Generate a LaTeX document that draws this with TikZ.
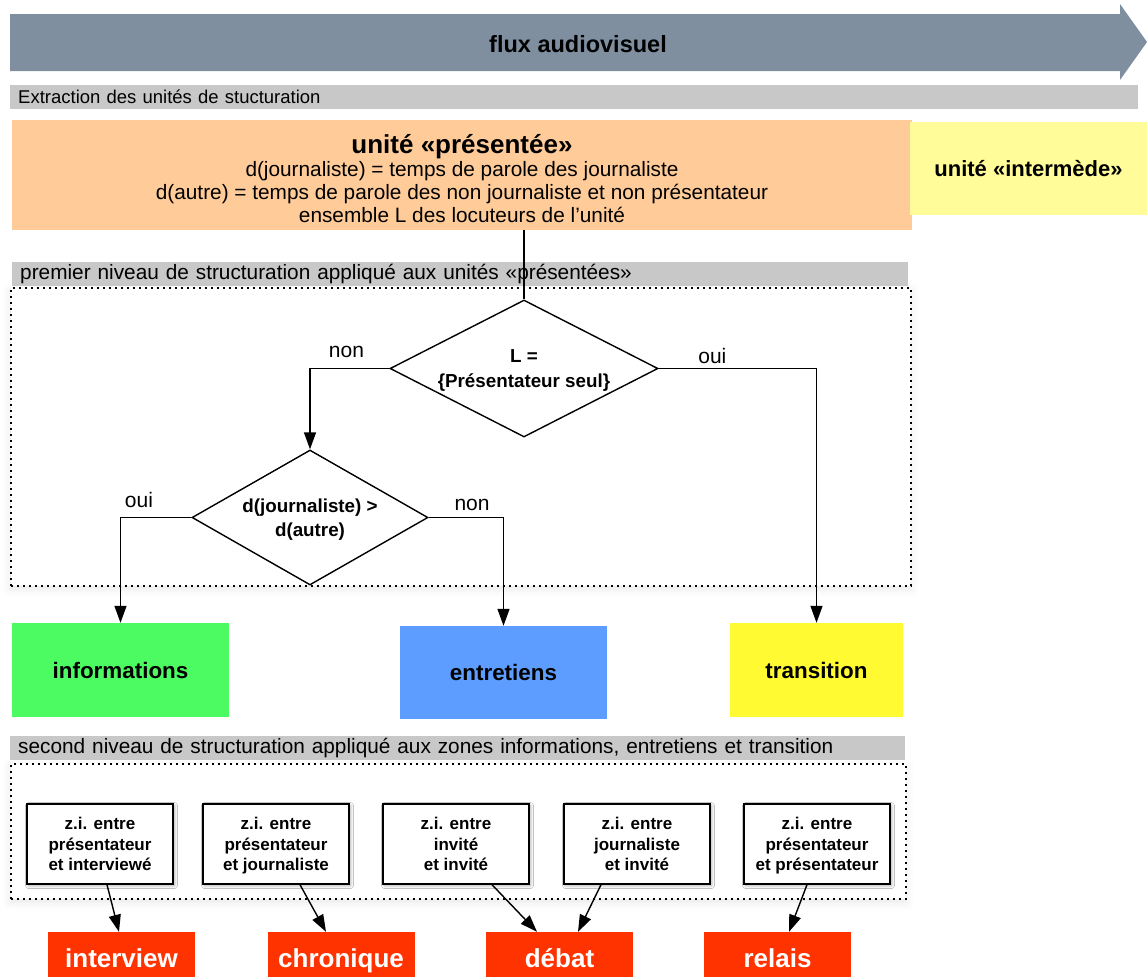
\documentclass[tikz,border=0pt]{standalone}
\usepackage{fontspec}
\setmainfont{Liberation Sans}
\usepackage{xcolor}
\usepackage{tikz}
\usetikzlibrary{arrows.meta, shapes.geometric, shadows.blur}

\definecolor{fluxgris}{RGB}{127,143,160}
\definecolor{bandeau}{RGB}{200,200,200}
\definecolor{peche}{RGB}{255,204,153}
\definecolor{jaunepale}{RGB}{255,252,153}
\definecolor{vert}{RGB}{76,250,98}
\definecolor{bleu}{RGB}{92,157,255}
\definecolor{jaune}{RGB}{255,250,50}
\definecolor{rouge}{RGB}{255,51,0}
\newcommand{\taille}[2]{\fontsize{#1}{#2}\selectfont}

\begin{document}
\begin{tikzpicture}[
    x=1pt, y=-1pt,
    every node/.style={align=center, inner sep=0pt},
    bar/.style={fill=bandeau, anchor=north west, minimum height=24pt,
                inner xsep=8pt, align=left, font=\taille{20.8}{24}},
    cadre/.style={draw, fill=white, dash pattern=on 2pt off 4pt, line width=1.6pt,
                  anchor=north west,
                  blur shadow={shadow xshift=0pt, shadow yshift=-3pt,
                               shadow blur radius=8pt, shadow opacity=10}},
    zone/.style={font=\bfseries\taille{22.4}{26}},
    test/.style={diamond, aspect=2, draw, fill=white, line width=1.4pt,
                 text depth=0pt, font=\bfseries\taille{18.8}{24.5}},
    zi/.style={draw, fill=white, line width=1.4pt, minimum width=146pt,
               minimum height=80pt, text depth=-6pt, font=\bfseries\taille{17}{20.5},
               blur shadow={shadow xshift=1.5pt, shadow yshift=-1.5pt,
                            shadow blur radius=3pt, shadow opacity=35}},
    genre/.style={fill=rouge, text=white, minimum width=147pt,
                  minimum height=45pt, text height=26pt, text depth=0pt,
                  font=\bfseries\taille{26}{30}},
    lbl/.style={font=\taille{21}{24}},
    arr/.style={-{Triangle[length=17pt, width=12pt]}, line width=1.4pt}
]
\useasboundingbox (0,0) rectangle (1147,977);

\node[cadre, minimum width=900pt, minimum height=298pt] (cadre1) at (10,287) {};
\node[cadre, minimum width=895pt, minimum height=135pt] (cadre2) at (10,763) {};

\fill[fluxgris] (10,14) -- (1120,14) -- (1120,4) -- (1147,42) -- (1120,80)
    -- (1120,71) -- (10,71) -- cycle;
\node[font=\bfseries\taille{23.5}{28}] (flux) at (578,44.5) {flux audiovisuel};

\node[bar, font=\taille{18.5}{22}, text width=1112pt] (extr) at (10,85)
    {Extraction des unités de stucturation};

\node[fill=peche, minimum width=900pt, minimum height=110pt] (pres) at (462,175) {};
\node[font=\taille{20.8}{23}] (prestxt) at (462,179)
    {{\bfseries\taille{26}{29}unité «présentée»}\\
     d(journaliste) = temps de parole des journaliste\\
     d(autre) = temps de parole des non journaliste et non présentateur\\
     ensemble L des locuteurs de l'unité};
\node[fill=jaunepale, minimum width=237pt, minimum height=93pt, text depth=-4pt,
      font=\bfseries\taille{22}{26}] (inter) at (1028.5,168.5) {unité «intermède»};

\node[bar, text width=880pt] (niv1) at (12,262)
    {premier niveau de structuration appliqué aux unités «présentées»};

\node[test, minimum width=268pt, minimum height=137pt] (d1) at (524,368.5)
    {L =\\\{Présentateur seul\}};
\node[test, minimum width=236pt, minimum height=135pt] (d2) at (310,517.5)
    {d(journaliste) >\\d(autre)};

\node[zone, fill=vert, minimum width=217pt, minimum height=94pt] (info) at (120.5,670) {informations};
\node[zone, fill=bleu, minimum width=207pt, minimum height=93pt] (entr) at (503.5,672.5) {entretiens};
\node[zone, fill=jaune, minimum width=173pt, minimum height=94pt] (trans) at (816.5,670) {transition};

\draw[line width=1.4pt] (d1.north) -- (d1.north |- pres.south);
\draw[arr] (d1.west) -| node[lbl, pos=0.27, above=10.5pt]{non} (d2.north);
\draw[arr] (d1.east) -| node[lbl, pos=0.17, above=4.5pt]{oui} (trans.north);
\draw[arr] (d2.west) -| node[lbl, pos=0.37, above=9.5pt]{oui} (info.north);
\draw[arr] (d2.east) -| node[lbl, pos=0.29, above=6.5pt]{non} (entr.north);

\node[bar, text width=879pt] (niv2) at (10,736)
    {second niveau de structuration appliqué aux zones informations, entretiens et transition};

\node[zi] (z1) at (100,844) {z.i. entre\\présentateur\\et interviewé};
\node[zi] (z2) at (276,844) {z.i. entre\\présentateur\\et journaliste};
\node[zi] (z3) at (456,844) {z.i. entre\\invité\\et invité};
\node[zi] (z4) at (637,844) {z.i. entre\\journaliste\\et invité};
\node[zi] (z5) at (817,844) {z.i. entre\\présentateur\\et présentateur};

\node[genre] (int) at (121.5,954.5) {interview};
\node[genre] (chro) at (341,954.5) {chronique};
\node[genre] (deb) at (559.5,954.5) {débat};
\node[genre] (rel) at (777.5,954.5) {relais};

\draw[arr] ([xshift=7pt]z1.south) -- ([xshift=-2.5pt]int.north);
\draw[arr] ([xshift=24pt]z2.south) -- ([xshift=-15pt]chro.north);
\draw[arr] ([xshift=36pt]z3.south) -- ([xshift=-22.5pt]deb.north);
\draw[arr] ([xshift=-36pt]z4.south) -- ([xshift=18.5pt]deb.north);
\draw[arr] ([xshift=-10pt]z5.south) -- ([xshift=11.5pt]rel.north);
\end{tikzpicture}
\end{document}
